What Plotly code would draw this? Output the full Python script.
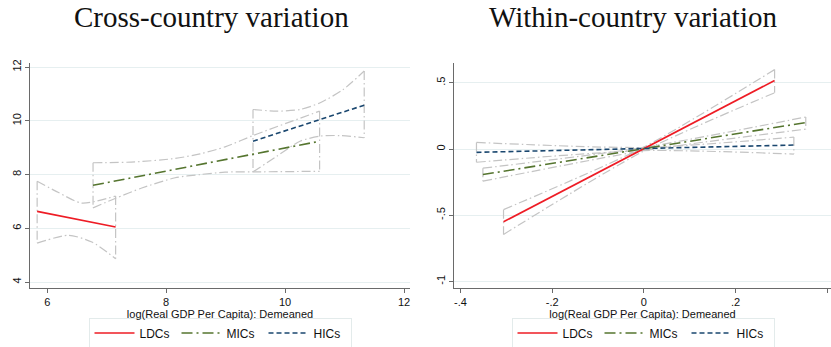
import plotly.graph_objects as go

# ---------------- data: cross-country panel ----------------
ldc_x = [5.83, 7.15]
ldc_y = [6.63, 6.05]
ldc_ci_hi_x = [5.83, 6.19, 6.58, 7.15]
ldc_ci_hi = [7.75, 7.33, 6.94, 7.20]
ldc_ci_lo_x = [5.83, 6.36, 6.75, 7.15]
ldc_ci_lo = [5.45, 5.74, 5.49, 4.87]

mic_x = [6.77, 10.58]
mic_y = [7.60, 9.24]
mic_ci_hi_x = [6.77, 7.48, 8.15, 8.57, 8.99, 9.46, 10.58]
mic_ci_hi = [8.44, 8.47, 8.60, 8.77, 9.03, 9.45, 10.36]
mic_ci_lo_x = [6.77, 7.14, 7.59, 8.15, 8.57, 8.99, 9.46, 10.58]
mic_ci_lo = [6.76, 7.11, 7.50, 7.88, 8.00, 8.09, 8.10, 8.12]

hic_x = [9.46, 11.33]
hic_y = [9.24, 10.58]
hic_ci_hi_x = [9.46, 9.86, 10.25, 10.59, 10.98, 11.33]
hic_ci_hi = [10.42, 10.36, 10.42, 10.67, 11.17, 11.85]
hic_ci_lo_x = [9.46, 9.86, 10.25, 10.59, 10.92, 11.33]
hic_ci_lo = [8.10, 8.68, 9.24, 9.43, 9.45, 9.37]

# ---------------- data: within-country panel ----------------
w_ldc_x = [-0.306, 0.285]
w_ldc_y = [-0.55, 0.518]
w_ldc_ci_x = [-0.306, 0.0, 0.285]
w_ldc_ci_hi = [-0.458, 0.015, 0.60]
w_ldc_ci_lo = [-0.645, -0.015, 0.425]

w_mic_x = [-0.351, 0.353]
w_mic_y = [-0.193, 0.20]
w_mic_ci_x = [-0.351, 0.0, 0.353]
w_mic_ci_hi = [-0.145, 0.012, 0.242]
w_mic_ci_lo = [-0.243, -0.012, 0.15]

w_hic_x = [-0.365, 0.327]
w_hic_y = [-0.025, 0.03]
w_hic_ci_x = [-0.365, 0.0, 0.327]
w_hic_ci_hi = [0.05, 0.012, 0.09]
w_hic_ci_lo = [-0.10, -0.012, -0.038]

left_xticks = [6, 8, 10, 12]
left_yticks = [4, 6, 8, 10, 12]
right_xticks = [-0.4, -0.2, 0, 0.2, 0.4]
right_xticklabels = ["-.4", "-.2", "0", ".2", ".4"]
right_yticks = [-1, -0.5, 0, 0.5]
right_yticklabels = ["-1", "-.5", "0", ".5"]

series_names = ["LDCs", "MICs", "HICs"]
# ---------------------------------------------------------

RED = "#ee1c25"
GREEN = "#55752f"
NAVY = "#1a476f"
CI = "#c4c4c4"
CI_DASH = "9px,3px,1.5px,3px"
styles = {
    "LDCs": dict(color=RED, width=1.6, dash="solid"),
    "MICs": dict(color=GREEN, width=1.6, dash="11px,4px,2px,4px"),
    "HICs": dict(color=NAVY, width=1.6, dash="5px,3px"),
}

fig = go.Figure()


def ci_line(xa, ya, xs, ys, spline):
    fig.add_trace(go.Scatter(x=xs, y=ys, mode="lines", xaxis=xa, yaxis=ya,
                             line=dict(color=CI, width=1.2, dash=CI_DASH,
                                       shape="spline" if spline else "linear", smoothing=0.7),
                             showlegend=False, hoverinfo="skip"))


def add_ci(xa, ya, hx, hy, lx, ly, spline=True):
    ci_line(xa, ya, hx, hy, spline)                      # upper bound
    ci_line(xa, ya, lx, ly, spline)                      # lower bound
    ci_line(xa, ya, [hx[0], lx[0]], [hy[0], ly[0]], False)     # left cap
    ci_line(xa, ya, [hx[-1], lx[-1]], [hy[-1], ly[-1]], False)  # right cap


# left panel CIs
add_ci("x", "y", ldc_ci_hi_x, ldc_ci_hi, ldc_ci_lo_x, ldc_ci_lo)
add_ci("x", "y", mic_ci_hi_x, mic_ci_hi, mic_ci_lo_x, mic_ci_lo)
add_ci("x", "y", hic_ci_hi_x, hic_ci_hi, hic_ci_lo_x, hic_ci_lo)
# right panel CIs
add_ci("x2", "y2", w_ldc_ci_x, w_ldc_ci_hi, w_ldc_ci_x, w_ldc_ci_lo)
add_ci("x2", "y2", w_mic_ci_x, w_mic_ci_hi, w_mic_ci_x, w_mic_ci_lo)
add_ci("x2", "y2", w_hic_ci_x, w_hic_ci_hi, w_hic_ci_x, w_hic_ci_lo)

left_fits = [(ldc_x, ldc_y), (mic_x, mic_y), (hic_x, hic_y)]
right_fits = [(w_ldc_x, w_ldc_y), (w_mic_x, w_mic_y), (w_hic_x, w_hic_y)]
for name, (xv, yv) in zip(series_names, left_fits):
    fig.add_trace(go.Scatter(x=xv, y=yv, mode="lines", name=name, xaxis="x", yaxis="y",
                             line=styles[name], legend="legend"))
for name, (xv, yv) in zip(series_names, right_fits):
    fig.add_trace(go.Scatter(x=xv, y=yv, mode="lines", name=name, xaxis="x2", yaxis="y2",
                             line=styles[name], legend="legend2"))

W, H = 831, 347
TICKFONT = dict(family="Liberation Sans, Arial, sans-serif", size=11, color="#111")
GRID = "#e6eff0"
AXC = "#6a6a6a"

common_x = dict(showline=True, linecolor=AXC, linewidth=1, ticks="outside", ticklen=4,
                tickcolor=AXC, showgrid=False, zeroline=False, tickfont=TICKFONT, automargin=False,
                title=dict(text="log(Real GDP Per Capita): Demeaned", font=TICKFONT, standoff=0))
common_y = dict(showline=True, linecolor=AXC, linewidth=1, ticks="outside", ticklen=4,
                tickcolor=AXC, showgrid=True, gridcolor=GRID, gridwidth=1, zeroline=False,
                tickfont=TICKFONT, tickangle=-90, automargin=False)

y_dom = [1 - 288 / H, 1 - 63 / H]
LEGFONT = dict(family="Liberation Sans, Arial", size=12, color="#111")
fig.update_layout(
    width=W, height=H, margin=dict(l=0, r=0, t=0, b=0, autoexpand=False),
    paper_bgcolor="white", plot_bgcolor="white",
    xaxis=dict(domain=[30 / W, 410 / W], range=[5.71, 12.1], tickvals=left_xticks,
               anchor="y", **common_x),
    yaxis=dict(domain=y_dom, range=[3.78, 12.15], tickvals=left_yticks, anchor="x", **common_y),
    xaxis2=dict(domain=[454 / W, 1.0], range=[-0.414, 0.408], tickvals=right_xticks,
                ticktext=right_xticklabels, anchor="y2", **common_x),
    yaxis2=dict(domain=y_dom, range=[-1.05, 0.65], tickvals=right_yticks,
                ticktext=right_yticklabels, anchor="x2", **common_y),
    legend=dict(orientation="h", x=220 / W, xanchor="center", y=1 - 333 / H, yanchor="middle",
                bordercolor="#e3ebeb", borderwidth=1, font=LEGFONT, itemwidth=40, tracegroupgap=0,
                entrywidth=32),
    legend2=dict(orientation="h", x=643 / W, xanchor="center", y=1 - 333 / H, yanchor="middle",
                 bordercolor="#e3ebeb", borderwidth=1, font=LEGFONT, itemwidth=40, tracegroupgap=0,
                 entrywidth=32),
    annotations=[
        dict(text="Cross-country variation", x=211 / W, y=1 - 17 / H, xref="paper", yref="paper",
             showarrow=False, font=dict(family="Liberation Serif, DejaVu Serif, serif", size=29, color="#111"),
             xanchor="center", yanchor="middle"),
        dict(text="Within-country variation", x=633 / W, y=1 - 17 / H, xref="paper", yref="paper",
             showarrow=False, font=dict(family="Liberation Serif, DejaVu Serif, serif", size=29, color="#111"),
             xanchor="center", yanchor="middle"),
    ],
)

fig.write_html("out.html", config={"displayModeBar": False},
               post_script="document.body.style.margin='0';document.body.style.overflow='hidden';")
